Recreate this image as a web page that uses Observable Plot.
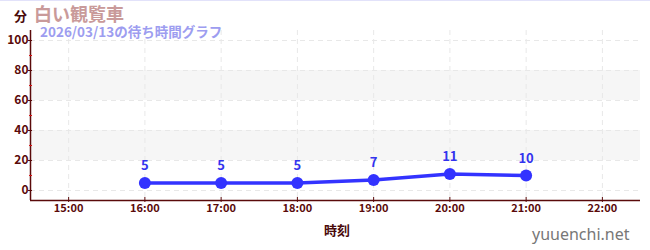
<!DOCTYPE html>
<html><head><meta charset="utf-8">
<script src="https://cdn.jsdelivr.net/npm/d3@7"></script>
<script src="https://cdn.jsdelivr.net/npm/@observablehq/plot@0.6"></script>
<style>
body{margin:0;background:#fff;font-family:"Noto Sans CJK JP","Noto Sans",sans-serif;}
#wrap{position:relative;width:650px;height:250px;overflow:hidden}
#topline{position:absolute;left:0;top:0;width:650px;height:1px;background:#e2e2fa}
.t{position:absolute;white-space:nowrap;font-weight:bold;line-height:1}
</style></head>
<body><div id="wrap">
<div id="topline"></div>
<div class="t" id="unit" style="left:14px;top:9px;font-size:13px;color:#4a0a0a">分</div>
<div class="t" id="title" style="left:34px;top:4px;font-size:18px;color:#c99a9a">白い観覧車</div>
<div class="t" id="sub" style="left:40px;top:25px;font-size:13.5px;color:#9d9df0">2026/03/13の待ち時間グラフ</div>
<div class="t" id="xl" style="left:0;width:650px;text-align:center;top:223px;font-size:13px;color:#4a0a0a;padding-left:24px;box-sizing:border-box">時刻</div>
<div class="t" id="site" style="left:532px;top:226px;font-size:16px;color:#777;font-weight:normal;font-family:'Noto Sans',sans-serif">yuuenchi.net</div>
</div>
<script>
const hours = [16, 17, 18, 19, 20, 21];
const waits = [5, 5, 5, 7, 11, 10];
const xTicks = [15, 16, 17, 18, 19, 20, 21, 22];
const yTicks = [0, 20, 40, 60, 80, 100];
const yMinor = [10, 30, 50, 70, 90];
const bandLo = [20, 60];
const bandHi = [40, 80];

const data = hours.map((h, i) => ({h, w: waits[i]}));
const bands = bandLo.map((lo, i) => ({lo, hi: bandHi[i], a: 14.5, b: 22.5}));
const axisColor = "#5a0a0a";
const xMin = 14.5, xMax = 22.5, yMin = -6.667, yMax = 106.667;

const chart = Plot.plot({
  width: 650, height: 250,
  marginLeft: 30, marginRight: 10, marginTop: 30, marginBottom: 50,
  style: {fontFamily: "'Noto Sans CJK JP', 'Noto Sans', sans-serif", background: "transparent", overflow: "visible"},
  x: {type: "linear", domain: [xMin, xMax], axis: null},
  y: {type: "linear", domain: [yMin, yMax], axis: null},
  marks: [
    Plot.rectY(bands, {x1: "a", x2: "b", y1: "lo", y2: "hi", fill: "#f6f6f6"}),
    Plot.ruleY(yTicks, {stroke: "#e8e8e8", strokeDasharray: "5,4", strokeWidth: 1}),
    Plot.ruleX(xTicks, {stroke: "#e8e8e8", strokeDasharray: "5,4", strokeWidth: 1}),
    Plot.ruleX([xMin], {stroke: axisColor, strokeWidth: 1.5}),
    Plot.ruleY([yMin], {stroke: axisColor, strokeWidth: 1.5}),
    Plot.axisY(yTicks, {tickSize: 4, tickPadding: 0, stroke: axisColor, fill: axisColor, fontSize: 12, fontWeight: "bold", label: null, dx: 2}),
    Plot.axisY(yMinor, {tickSize: 3, tickFormat: () => "", stroke: "#d81010", label: null, dx: 2}),
    Plot.axisX(xTicks, {tickSize: 5, tickPadding: 2, stroke: axisColor, fill: axisColor, fontSize: 11, fontWeight: "bold", label: null, tickFormat: d => String(d).padStart(2, "0") + ":00", dy: -3}),
    Plot.line(data, {x: "h", y: "w", stroke: "#3333ff", strokeWidth: 3.5}),
    Plot.dot(data, {x: "h", y: "w", r: 6, fill: "#3333ff"}),
    Plot.text(data, {x: "h", y: "w", text: d => String(d.w), dy: -17, fill: "#3333ee", fontSize: 13, fontWeight: "bold"})
  ]
});
chart.style.position = "absolute";
chart.style.left = "0";
chart.style.top = "0";
document.getElementById("wrap").insertBefore(chart, document.getElementById("wrap").firstChild);
</script>
</body></html>
